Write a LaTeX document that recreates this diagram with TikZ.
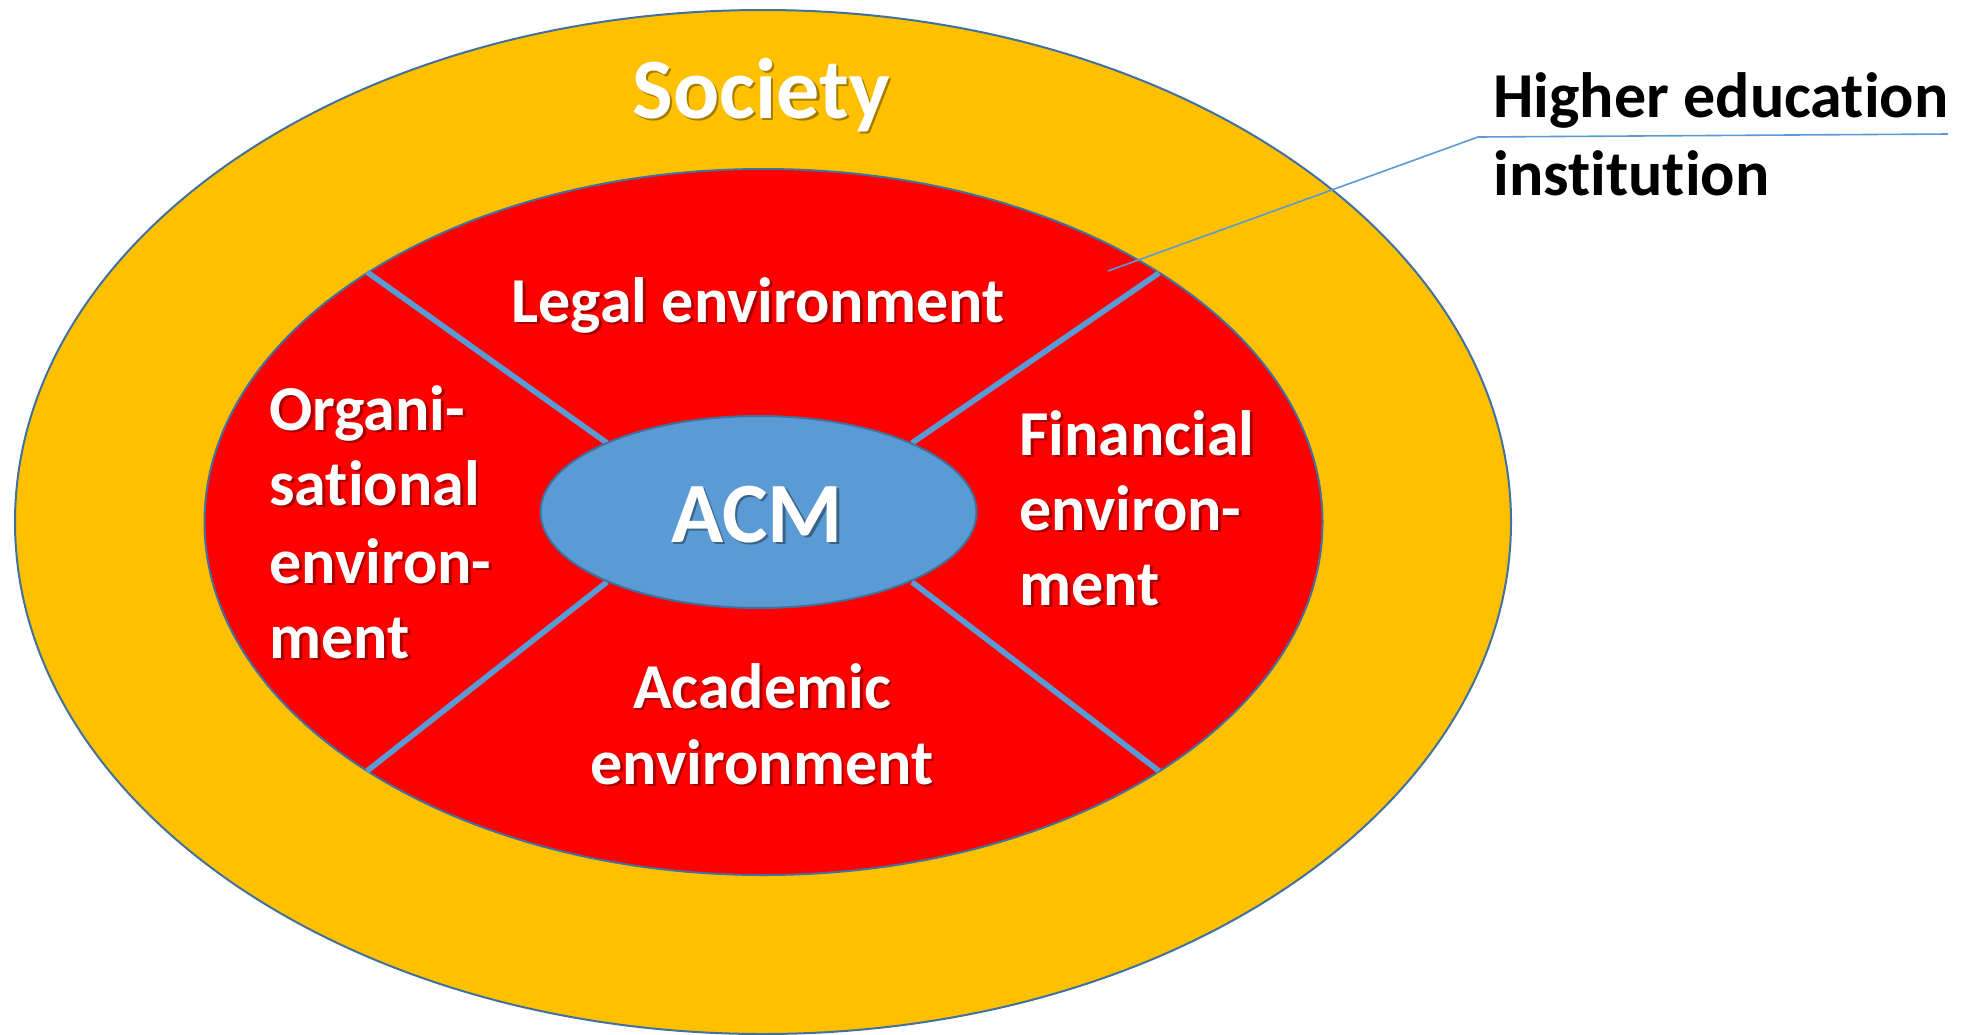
\documentclass[tikz,border=0pt]{standalone}
\usepackage{fontspec}
\setmainfont[Ligatures=NoCommon]{Carlito}
\usetikzlibrary{shapes.geometric}

\definecolor{ringyellow}{HTML}{FFC000}
\definecolor{ringred}{HTML}{FF0000}
\definecolor{coreblue}{HTML}{5B9BD5}
\definecolor{edgeblue}{HTML}{41719C}

\tikzset{
  ring/.style={draw=edgeblue, line width=1pt, ellipse, inner sep=0pt},
  divider/.style={draw=coreblue, line width=2.8pt},
  callout/.style={draw=coreblue, line width=0.8pt},
  lbl/.style={inner sep=0pt, text=white, font=\bfseries\fontsize{32}{38}\selectfont},
  biglbl/.style={inner sep=0pt, text=white, font=\bfseries\fontsize{43}{52}\selectfont},
  sidelbl/.style={inner sep=0pt, text=black, font=\bfseries\fontsize{32}{38}\selectfont},
  shade/.style={text=black, text opacity=0.35, xshift=1.3pt, yshift=-1.3pt},
}

% white label with a soft drop shadow: style, name, anchor, position, text
\newcommand\shlabel[5]{%
  \node[#1, shade, anchor=#3] at (#4) {#5};
  \node[#1, anchor=#3] (#2) at (#4) {#5};}

\begin{document}
\begin{tikzpicture}[x=0.5pt, y=-0.5pt]
  \useasboundingbox (0,0) rectangle (1975,1034);

  % nested rings (sizes in pt: one unit of the grid is 0.5pt)
  \node[ring, fill=ringyellow, minimum width=748pt, minimum height=512pt]
    (society) at (763,522) {};
  \node[ring, fill=ringred, minimum width=559pt, minimum height=353pt]
    (hei) at (763.5,522) {};

  % dividers between the sectors
  \coordinate (ulo) at (367,272);  \coordinate (uli) at (607,443);
  \coordinate (uro) at (1159,273); \coordinate (uri) at (912,443);
  \coordinate (llo) at (367,771);  \coordinate (lli) at (607,582);
  \coordinate (lro) at (1159,771); \coordinate (lri) at (912,582);
  \draw[divider] (ulo) -- (uli);
  \draw[divider] (uro) -- (uri);
  \draw[divider] (llo) -- (lli);
  \draw[divider] (lro) -- (lri);

  % core
  \node[ring, fill=coreblue, minimum width=218pt, minimum height=96pt]
    (core) at (758.5,512) {};

  % labels
  \shlabel{biglbl}{tsociety}{base}{761,118}{Society}
  \shlabel{biglbl}{tacm}{base}{757,542}{ACM}
  \shlabel{lbl}{tlegal}{base}{758,322}{Legal environment}

  \shlabel{lbl}{torg1}{base west}{269,430}{Organi-}
  \shlabel{lbl}{torg2}{base west}{269,505}{sational}
  \shlabel{lbl}{torg3}{base west}{269,583}{environ-}
  \shlabel{lbl}{torg4}{base west}{269,658}{ment}

  \shlabel{lbl}{tfin1}{base west}{1019,455}{Financial}
  \shlabel{lbl}{tfin2}{base west}{1019,530}{environ-}
  \shlabel{lbl}{tfin3}{base west}{1019,605}{ment}

  \shlabel{lbl}{tacad1}{base}{762,708}{Academic}
  \shlabel{lbl}{tacad2}{base}{762,784}{environment}

  % side caption with its leader line
  \node[sidelbl, anchor=base west] (hei1) at (1493,117) {Higher education};
  \node[sidelbl, anchor=base west] (hei2) at (1493,195) {institution};
  \coordinate (leadin) at (1108,271);
  \coordinate (leadknee) at (1478,137);
  \coordinate (leadend) at (1948,134);
  \draw[callout] (leadin) -- (leadknee) -- (leadend);
\end{tikzpicture}
\end{document}
